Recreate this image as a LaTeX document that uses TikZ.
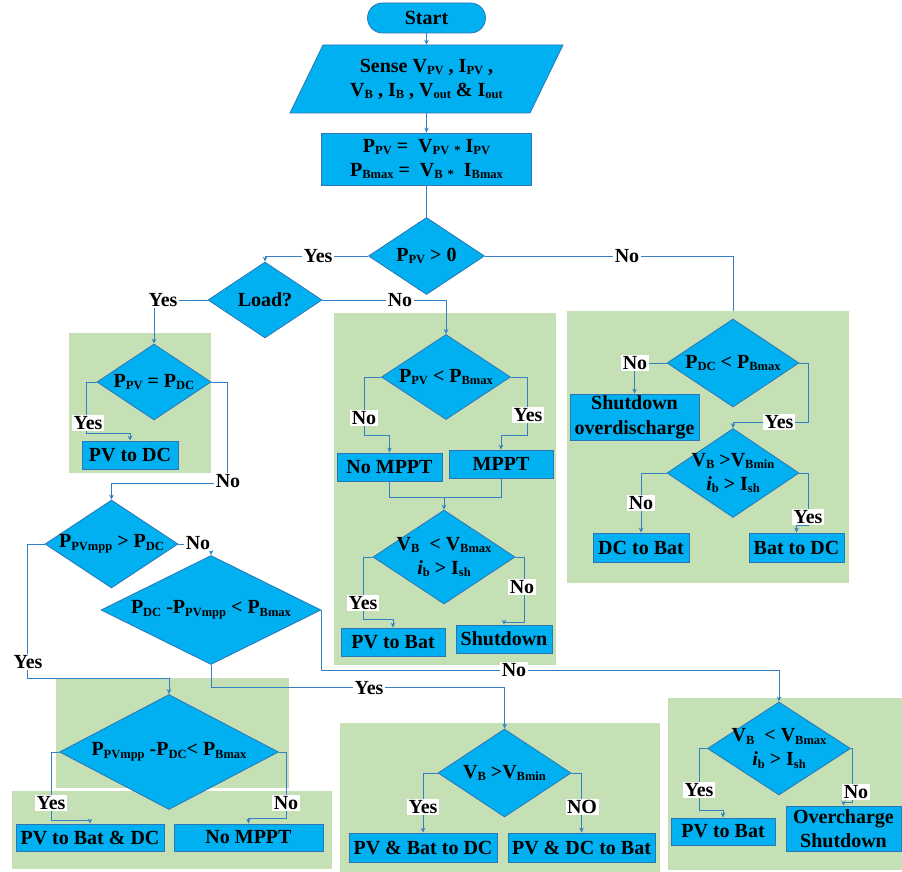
\documentclass[tikz,border=0pt]{standalone}
\usepackage{fontspec}
\setmainfont{Liberation Serif}
\usetikzlibrary{shapes.geometric,arrows.meta}
\definecolor{cy}{RGB}{0,176,240}
\definecolor{bc}{RGB}{46,117,182}
\definecolor{lc}{RGB}{52,128,196}
\definecolor{gr}{RGB}{197,224,180}
% subscript in a smaller bold size
\newcommand\dn[1]{\raisebox{-0.3ex}{\fontsize{12.5}{13}\selectfont #1}}
\newcommand\ff{\fontsize{20}{24}\selectfont\bfseries}

\begin{document}
\begin{tikzpicture}[x=1pt,y=-1pt,
  ln/.style={draw=lc,line width=0.9pt},
  arr/.style={ln,-{Stealth[length=5pt,width=4.5pt]}},
  blk/.style={rectangle,draw=bc,fill=cy,line width=0.8pt,inner sep=1pt,font=\ff,align=center},
  dec/.style={diamond,draw=bc,fill=cy,line width=0.8pt,inner sep=0pt},
  dtx/.style={font=\ff,align=center,inner sep=0pt},
  tag/.style={fill=white,inner sep=1.5pt,font=\ff},
  grp/.style={fill=gr}]
\useasboundingbox (0,0) rectangle (902,872);

% green group panels
\fill[grp] (69,333) rectangle (211,473);
\fill[grp] (334,313) rectangle (556,665);
\fill[grp] (567,311) rectangle (849,583);
\fill[grp] (56,678) rectangle (289,788);
\fill[grp] (12,791) rectangle (332,869);
\fill[grp] (340,723) rectangle (660,872);
\fill[grp] (668,698) rectangle (902,870);

% top chain
\node[blk,rounded corners=15pt,minimum width=118,minimum height=30] (start) at (426.5,18) {Start};
\filldraw[fill=cy,draw=bc,line width=0.8pt] (290,113) -- (530,113) -- (563,45) -- (323,45) -- cycle;
\node[dtx,minimum width=240,minimum height=68] (sense) at (426.5,79)
  {Sense V\dn{PV} , I\dn{PV} ,\\ V\dn{B} , I\dn{B} , V\dn{out} \& I\dn{out}};
\node[blk,minimum width=210,minimum height=52] (pw) at (426.5,159)
  {P\dn{PV} =\ \ V\dn{PV} \dn{*} I\dn{PV}\\ P\dn{Bmax} =\ \ V\dn{B} \dn{*}\ \ I\dn{Bmax}};

% decisions
\node[dec,minimum width=116,minimum height=77,label={[dtx]center:{P\dn{PV} > 0}}] (d1) at (426.5,256) {};
\node[dec,minimum width=114,minimum height=76,label={[dtx]center:{Load?}}] (load) at (265,300) {};
\node[dec,minimum width=114,minimum height=76,label={[dtx]center:{P\dn{PV} = P\dn{DC}}}] (d2) at (154,382) {};
\node[dec,minimum width=133,minimum height=88,label={[dtx]center:{P\dn{PVmpp} > P\dn{DC}}}] (d3) at (111.5,544) {};
\node[dec,minimum width=220,minimum height=109,label={[dtx]center:{P\dn{DC} -P\dn{PVmpp} < P\dn{Bmax}}}] (d4) at (211,610) {};
\node[dec,minimum width=219,minimum height=115,label={[dtx]center:{P\dn{PVmpp} -P\dn{DC}< P\dn{Bmax}}}] (d5) at (169,752) {};
\node[dec,minimum width=129,minimum height=85,label={[dtx]center:{P\dn{PV} < P\dn{Bmax}}}] (d6) at (446,377) {};
\node[dec,minimum width=142,minimum height=94,label={[dtx]center:{V\dn{B}\ \ < V\dn{Bmax}\\ \textit{i}\dn{b} > I\dn{sh}}}] (d9) at (444,557) {};
\node[dec,minimum width=132,minimum height=88,label={[dtx]center:{P\dn{DC} < P\dn{Bmax}}}] (d10) at (733,363) {};
\node[dec,minimum width=132,minimum height=89,label={[dtx]center:{V\dn{B} >V\dn{Bmin}\\ \textit{i}\dn{b} > I\dn{sh}}}] (d11) at (733,473) {};
\node[dec,minimum width=133,minimum height=88,label={[dtx]center:{V\dn{B} >V\dn{Bmin}}}] (d7) at (504.5,773) {};
\node[dec,minimum width=143,minimum height=93,label={[dtx]center:{V\dn{B}\ \ < V\dn{Bmax}\\ \textit{i}\dn{b} > I\dn{sh}}}] (d8) at (779,748.5) {};

% actions
\node[blk,minimum width=96,minimum height=28] (pvdc) at (130,455) {PV to DC};
\node[blk,minimum width=105,minimum height=28] (nomppt) at (389.5,467) {No MPPT};
\node[blk,minimum width=104,minimum height=28] (mppt) at (501,464) {MPPT};
\node[blk,minimum width=104,minimum height=28] (pvbat1) at (393,642) {PV to Bat};
\node[blk,minimum width=96,minimum height=28] (shut1) at (504,639) {Shutdown};
\node[blk,minimum width=129,minimum height=46,font=\fontsize{20}{25}\selectfont\bfseries] (shutod) at (634.5,417) {Shutdown\\overdischarge};
\node[blk,minimum width=96,minimum height=29] (dcbat) at (641,547.5) {DC to Bat};
\node[blk,minimum width=95,minimum height=29] (batdc) at (796.5,547.5) {Bat to DC};
\node[blk,minimum width=148,minimum height=27] (pvbatdcL) at (90,837.5) {PV to Bat \& DC};
\node[blk,minimum width=149,minimum height=27] (nompptL) at (248.5,837.5) {No MPPT};
\node[blk,minimum width=148,minimum height=29] (pvbattodc) at (423,847.5) {PV \& Bat to DC};
\node[blk,minimum width=147,minimum height=29] (pvdctobat) at (581.5,847.5) {PV \& DC to Bat};
\node[blk,minimum width=104,minimum height=27] (pvbat2) at (723,831.5) {PV to Bat};
\node[blk,minimum width=115,minimum height=45] (ovsh) at (843.5,828.5) {Overcharge\\Shutdown};

% free ends of connectors
\coordinate (rtop) at (733,311);
\coordinate (merge) at (444,497);

% connectors
\draw[arr] (start) -- (sense);
\draw[arr] (sense) -- (pw);
\draw[ln] (pw) -- (d1);
\draw[arr] (d1.west) -| (load.north);
\draw[ln] (d1.east) -| (rtop);
\draw[arr] (load.west) -| (d2.north);
\draw[arr] (load.east) -| (d6.north);
\draw[arr] (d2.west) -- ++(-10,0) -- ++(0,51) -| (pvdc.north);
\draw[arr] (d2.east) -- ++(16,0) -- ++(0,101) -| (d3.north);
\draw[arr] (d3.east) -| (d4.north);
\draw[arr] (d3.west) -- ++(-17,0) -- ++(0,134) -| (d5.north);
\draw[arr] (d4.east) -- ++(0,60) -| (d8.north);
\draw[arr] (d4.south) -- ++(0,23) -| (d7.north);
\draw[arr] (d5.west) -- ++(-8,0) -- ++(0,68) -| (pvbatdcL.north);
\draw[arr] (d5.east) -- ++(8,0) -- ++(0,66) -| (nompptL.north);
\draw[arr] (d6.west) -- ++(-17,0) -- ++(0,58) -| (nomppt.north);
\draw[arr] (d6.east) -- ++(17,0) -- ++(0,58) -| (mppt.north);
\draw[ln] (nomppt.south) -- ++(0,16) -| (mppt.south);
\draw[arr] (merge) -- (d9.north);
\draw[arr] (d9.west) -- ++(-9,0) -- ++(0,62) -| (pvbat1.north);
\draw[arr] (d9.east) -- ++(9,0) -- ++(0,65) -| (shut1.north);
\draw[arr] (d10.west) -| (shutod.north);
\draw[arr] (d10.east) -- ++(9,0) -- ++(0,59) -| (d11.north);
\draw[arr] (d11.west) -| (dcbat.north);
\draw[arr] (d11.east) -- ++(9,0) -- ++(0,52) -| (batdc.north);
\draw[arr] (d7.west) -| (pvbattodc.north);
\draw[arr] (d7.east) -| (pvdctobat.north);
\draw[arr] (d8.west) -- ++(-8,0) -- ++(0,62) -| (pvbat2.north);
\draw[arr] (d8.east) -- ++(2,0) -- ++(0,54) -| (ovsh.north);

% branch labels
\node[tag] (t1) at (318,256) {Yes};
\node[tag] (t2) at (627,256) {No};
\node[tag] (t3) at (163,300) {Yes};
\node[tag] (t4) at (400,300) {No};
\node[tag] (t5) at (88,423) {Yes};
\node[tag] (t6) at (228,481) {No};
\node[tag] (t7) at (198,543) {No};
\node[tag] (t8) at (28,662) {Yes};
\node[tag] (t9) at (514,670) {No};
\node[tag] (t10) at (369,688) {Yes};
\node[tag] (t11) at (51,803) {Yes};
\node[tag] (t12) at (286,803) {No};
\node[tag] (t13) at (364,418) {No};
\node[tag] (t14) at (528,415) {Yes};
\node[tag] (t15) at (363,603) {Yes};
\node[tag] (t16) at (522,587) {No};
\node[tag] (t17) at (635,363) {No};
\node[tag] (t18) at (779,422) {Yes};
\node[tag] (t19) at (641,503) {No};
\node[tag] (t20) at (808,517) {Yes};
\node[tag] (t21) at (423,807) {Yes};
\node[tag] (t22) at (582,807) {NO};
\node[tag] (t23) at (699,790) {Yes};
\node[tag] (t24) at (856,792) {No};
\end{tikzpicture}
\end{document}
